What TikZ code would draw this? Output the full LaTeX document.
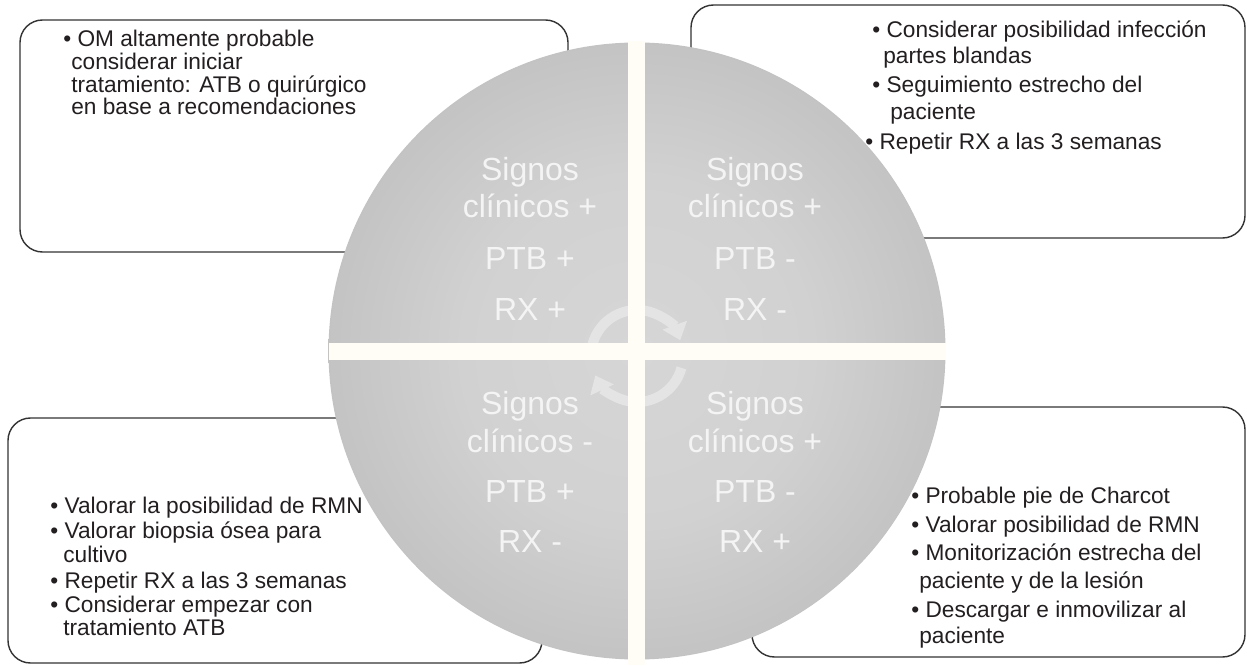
\documentclass[tikz,border=0pt]{standalone}
\usepackage{fontspec}
\setmainfont{Liberation Sans}
\usetikzlibrary{arrows.meta}

\definecolor{ink}{HTML}{231F20}
\definecolor{boxline}{HTML}{333333}
\definecolor{ballin}{HTML}{D6D6D6}
\definecolor{ballout}{HTML}{9A9A9A}
\definecolor{barcream}{HTML}{FFFDF6}
\definecolor{quadwhite}{HTML}{F4F4F4}
\definecolor{arcgray}{HTML}{E4E4E4}

\pgfdeclareradialshading{ballshading}{\pgfpoint{0bp}{0bp}}{%
  color(0bp)=(ballin); color(14bp)=(ballin!92!ballout);
  color(34bp)=(ballin!50!ballout); color(50bp)=(ballout)}

\begin{document}
\begin{tikzpicture}[
    % Define styles
    infobox/.style={rectangle, rounded corners=0.45cm, draw=boxline, line width=0.8pt, fill=white, inner sep=0pt},
    itemtext/.style={anchor=base west, inner sep=0pt, text=ink, font=\fontsize{12.9}{15}\selectfont},
    quadtext/.style={anchor=base, inner sep=0pt, text=quadwhite, font=\fontsize{18.2}{21}\selectfont},
    ball/.style={circle, minimum size=12.34cm, inner sep=0pt, shading=ballshading},
    cyclearrow/.style={line width=0.2cm, draw=arcgray, -{Triangle[width=0.5cm, length=0.32cm]}},
    crossbar/.style={fill=barcream}
]
\useasboundingbox (0,0) rectangle (24.94,13.3);

% Boxes behind the disc
\node[infobox, minimum width=10.96cm, minimum height=4.64cm] (tlbox) at (5.88, 10.58) {};
\node[infobox, minimum width=11.08cm, minimum height=4.66cm] (trbox) at (19.36, 10.87) {};
\node[infobox, minimum width=10.68cm, minimum height=4.90cm] (blbox) at (5.50, 2.49) {};
\node[infobox, minimum width=9.86cm, minimum height=5.00cm] (brbox) at (19.97, 2.66) {};

% Disc
\node[ball] (disc) at (12.74, 6.28) {};

% Cycle arrows
\coordinate (hub) at (12.74, 6.18);
\draw[cyclearrow] ([shift={(165:0.92)}]hub) arc[start angle=165, end angle=20, radius=0.92];
\draw[cyclearrow] ([shift={(-15:0.92)}]hub) arc[start angle=-15, end angle=-155, radius=0.92];

% Cross
\fill[crossbar] (6.58, 6.10) rectangle (18.92, 6.44);
\fill[crossbar] (12.56, 0) rectangle (12.90, 12.48);

% Quadrant labels
\node[quadtext] (q1a) at (10.60, 9.68) {Signos};
\node[quadtext] (q1b) at (10.60, 8.94) {clínicos +};
\node[quadtext] (q1c) at (10.60, 7.90) {PTB +};
\node[quadtext] (q1d) at (10.60, 6.88) {RX +};

\node[quadtext] (q2a) at (15.10, 9.68) {Signos};
\node[quadtext] (q2b) at (15.10, 8.94) {clínicos +};
\node[quadtext] (q2c) at (15.10, 7.90) {PTB -};
\node[quadtext] (q2d) at (15.10, 6.88) {RX -};

\node[quadtext] (q3a) at (10.60, 5.02) {Signos};
\node[quadtext] (q3b) at (10.60, 4.26) {clínicos -};
\node[quadtext] (q3c) at (10.60, 3.26) {PTB +};
\node[quadtext] (q3d) at (10.60, 2.26) {RX -};

\node[quadtext] (q4a) at (15.10, 5.02) {Signos};
\node[quadtext] (q4b) at (15.10, 4.26) {clínicos +};
\node[quadtext] (q4c) at (15.10, 3.26) {PTB -};
\node[quadtext] (q4d) at (15.10, 2.26) {RX +};

% Top left text
\node[itemtext] (tl1) at (1.26, 12.37) {\textbullet\ OM altamente probable};
\node[itemtext] (tl2) at (1.42, 11.90) {considerar iniciar};
\node[itemtext] (tl3) at (1.42, 11.45) {tratamiento: ATB o quirúrgico};
\node[itemtext] (tl4) at (1.42, 11.00) {en base a recomendaciones};

% Top right text
\node[itemtext] (tr1) at (17.44, 12.54) {\textbullet\ Considerar posibilidad infección};
\node[itemtext] (tr2) at (17.66, 12.02) {partes blandas};
\node[itemtext] (tr3) at (17.44, 11.44) {\textbullet\ Seguimiento estrecho del};
\node[itemtext] (tr4) at (17.80, 10.90) {paciente};
\node[itemtext] (tr5) at (17.30, 10.30) {\textbullet\ Repetir RX a las 3 semanas};

% Bottom left text
\node[itemtext] (bl1) at (1.00, 3.04) {\textbullet\ Valorar la posibilidad de RMN};
\node[itemtext] (bl2) at (1.00, 2.54) {\textbullet\ Valorar biopsia ósea para};
\node[itemtext] (bl3) at (1.26, 2.06) {cultivo};
\node[itemtext] (bl4) at (1.00, 1.54) {\textbullet\ Repetir RX a las 3 semanas};
\node[itemtext] (bl5) at (1.00, 1.06) {\textbullet\ Considerar empezar con};
\node[itemtext] (bl6) at (1.26, 0.60) {tratamiento ATB};

% Bottom right text
\node[itemtext] (br1) at (18.22, 3.24) {\textbullet\ Probable pie de Charcot};
\node[itemtext] (br2) at (18.22, 2.66) {\textbullet\ Valorar posibilidad de RMN};
\node[itemtext] (br3) at (18.22, 2.10) {\textbullet\ Monitorización estrecha del};
\node[itemtext] (br4) at (18.38, 1.54) {paciente y de la lesión};
\node[itemtext] (br5) at (18.22, 0.96) {\textbullet\ Descargar e inmovilizar al};
\node[itemtext] (br6) at (18.38, 0.44) {paciente};

\end{tikzpicture}
\end{document}
